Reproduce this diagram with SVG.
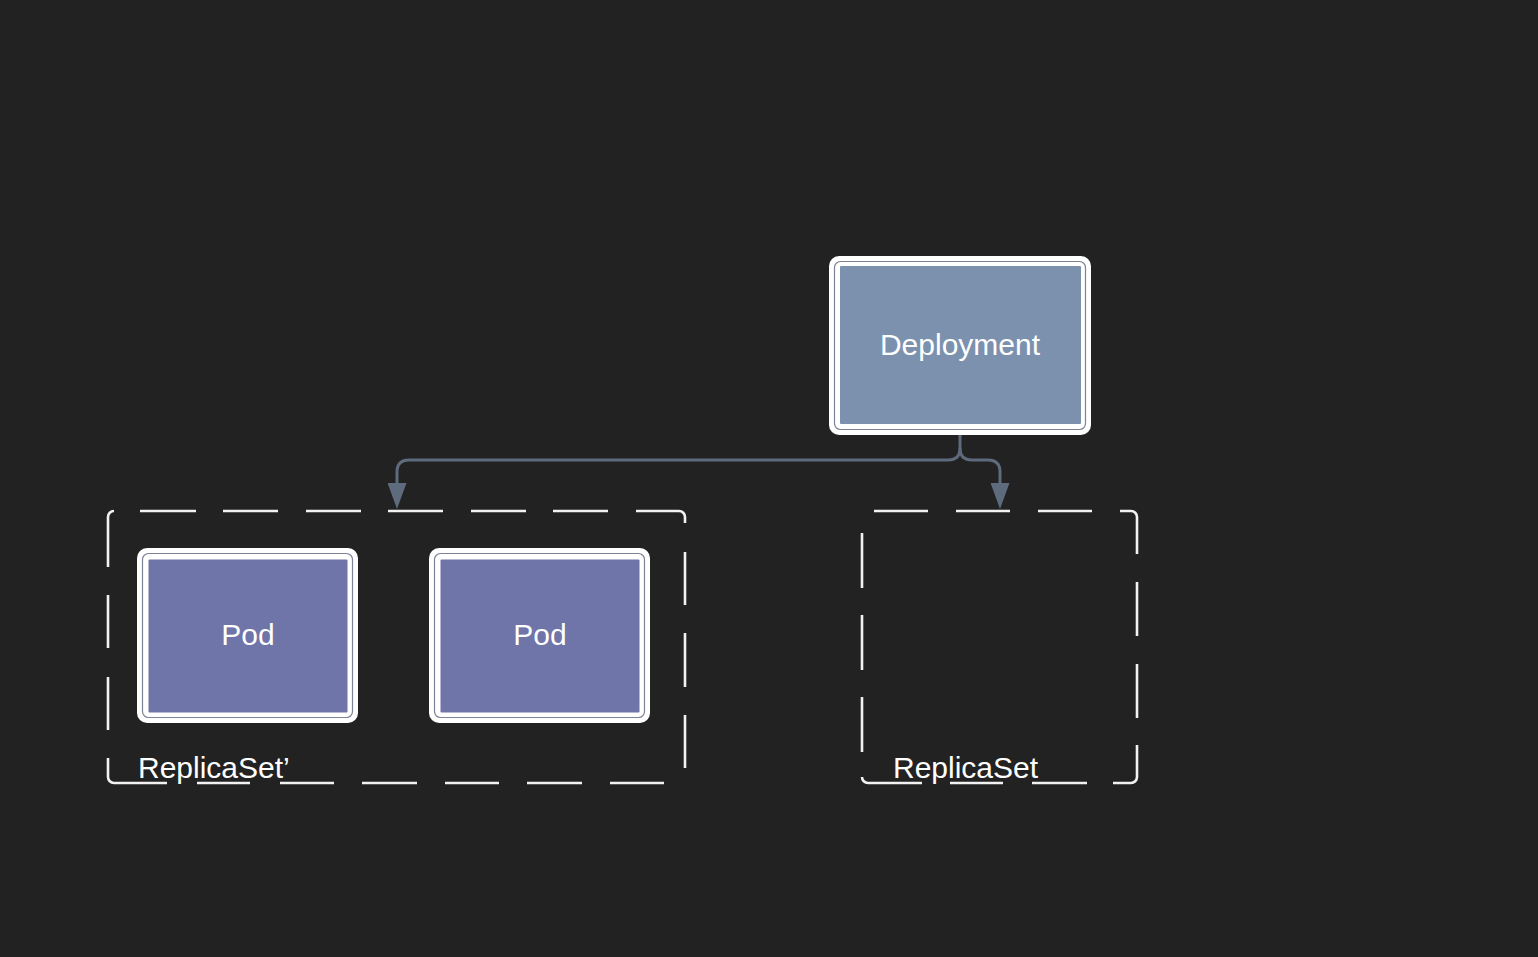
<svg xmlns="http://www.w3.org/2000/svg" width="1538" height="957" viewBox="0 0 1538 957">
<defs>
<style>
.bg{fill:#222222}
.outer{fill:#ffffff}
.inner{fill:#ffffff;stroke:#7d8294;stroke-width:1.2}
.dep{fill:#7b91ae}
.pod{fill:#6f74a9}
.lbl{font-family:"Liberation Sans",Arial,sans-serif;font-size:30px;fill:#ffffff}
.mid{text-anchor:middle}
.dash{fill:none;stroke:#f2f2f2;stroke-width:2.6;stroke-linecap:butt}
.conn{fill:none;stroke:#5d6b7c;stroke-width:3}
</style>
<marker id="arr" viewBox="0 0 26 19" refX="0" refY="9.5" markerWidth="26" markerHeight="19" markerUnits="userSpaceOnUse" orient="auto">
<path d="M0,0 L26,9.5 L0,19 Z" fill="#5d6b7c"/>
</marker>
</defs>
<rect class="bg" x="0" y="0" width="1538" height="957"/>

<g id="replicaset-prime">
<path class="dash" d="M114 511 A6 6 0 0 0 108 517 V567 M108 595 V648 M108 677 V730 M108 758 V777 A6 6 0 0 0 114 783 H167 M197 783 H250 M280 783 H334 M362 783 H417 M445 783 H499 M527 783 H582 M610 783 H664 M685 768 V715 M685 687 V633 M685 605 V552 M685 523 V517 A6 6 0 0 0 679 511 H636 M608 511 H553 M526 511 H471 M443 511 H388 M361 511 H306 M278 511 H223 M196 511 H140"/>
<text class="lbl" x="138" y="778">ReplicaSet’</text>
</g>

<g id="replicaset">
<path class="dash" d="M874 511 H928 M956 511 H1010 M1038 511 H1092 M1120 511 H1131 A6 6 0 0 1 1137 517 V554 M1137 582 V636 M1137 664 V718 M1137 745 V777 A6 6 0 0 1 1131 783 H1113 M1087 783 H1032 M1003 783 H950 M922 783 H868 A6 6 0 0 1 862 777 M862 752 V697 M862 670 V615 M862 588 V533"/>
<text class="lbl" x="893" y="778">ReplicaSet</text>
</g>

<g id="deployment">
<rect class="outer" x="829" y="256" width="262" height="179" rx="10"/>
<rect class="inner" x="834.5" y="261.5" width="251" height="168" rx="6"/>
<rect class="dep" x="840" y="266" width="241" height="158" rx="1"/>
<text class="lbl mid" x="960" y="355">Deployment</text>
</g>

<g id="pod1">
<rect class="outer" x="137" y="548" width="221" height="175" rx="10"/>
<rect class="inner" x="142.5" y="553.5" width="210" height="164" rx="6"/>
<rect class="pod" x="148.5" y="559.5" width="199" height="153" rx="1"/>
<text class="lbl mid" x="248" y="645">Pod</text>
</g>

<g id="pod2">
<rect class="outer" x="429" y="548" width="221" height="175" rx="10"/>
<rect class="inner" x="434.5" y="553.5" width="210" height="164" rx="6"/>
<rect class="pod" x="440.5" y="559.5" width="199" height="153" rx="1"/>
<text class="lbl mid" x="540" y="645">Pod</text>
</g>

<g id="connectors">
<path class="conn" d="M960 435 V448 Q960 460 948 460 H409 Q397 460 397 472 V483" marker-end="url(#arr)"/>
<path class="conn" d="M960 448 Q960 460 972 460 H988 Q1000 460 1000 472 V483" marker-end="url(#arr)"/>
</g>
</svg>
